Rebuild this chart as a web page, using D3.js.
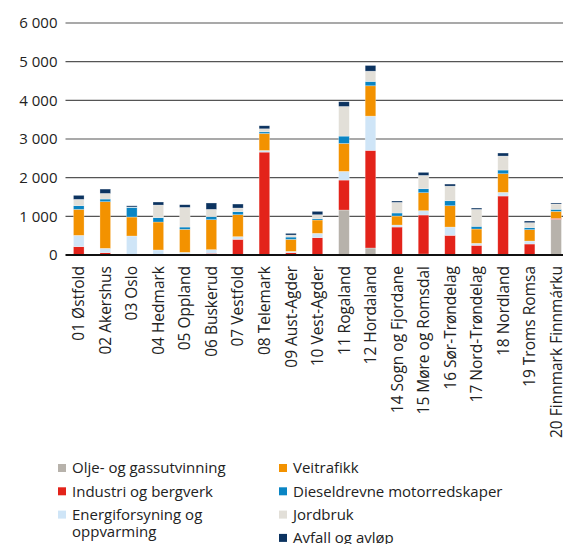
<!DOCTYPE html>
<html>
<head>
<meta charset="utf-8">
<script src="https://cdn.jsdelivr.net/npm/d3@7"></script>
<style>
  body { margin: 0; background: #fff; }
  svg { display: block; font-family: "Open Sans", "Noto Sans", sans-serif; }
</style>
</head>
<body>
<div id="chart"></div>
<script>
// counties on the x axis
const counties = [
  "01 Østfold", "02 Akershus", "03 Oslo", "04 Hedmark", "05 Oppland",
  "06 Buskerud", "07 Vestfold", "08 Telemark", "09 Aust-Agder", "10 Vest-Agder",
  "11 Rogaland", "12 Hordaland", "14 Sogn og Fjordane", "15 Møre og Romsdal",
  "16 Sør-Trøndelag", "17 Nord-Trøndelag", "18 Nordland", "19 Troms Romsa",
  "20 Finnmark Finnmárku"
];

// values per sector (stack order bottom -> top)
const olje      = [0, 0, 0, 0, 0, 0, 0, 0, 0, 0, 1163, 181, 0, 26, 0, 0, 0, 0, 922];
const industri  = [215, 60, 0, 10, 0, 43, 405, 2661, 60, 448, 775, 2524, 723, 1008, 508, 250, 1525, 284, 26];
const energi    = [293, 112, 491, 120, 69, 95, 69, 43, 34, 112, 224, 887, 52, 112, 215, 52, 95, 78, 0];
const veitrafikk = [672, 1206, 491, 723, 594, 775, 568, 439, 310, 345, 723, 784, 233, 465, 551, 370, 482, 293, 181];
const diesel    = [95, 69, 250, 112, 60, 78, 78, 43, 60, 34, 190, 112, 78, 103, 129, 69, 95, 52, 52];
const jordbruk  = [164, 146, 10, 327, 508, 190, 95, 78, 52, 103, 767, 267, 276, 345, 379, 439, 362, 129, 138];
const avfall    = [103, 112, 30, 78, 69, 164, 103, 78, 43, 86, 121, 146, 34, 78, 52, 34, 78, 43, 26];

const seriesNames = [
  "Olje- og gassutvinning", "Industri og bergverk", "Energiforsyning og oppvarming",
  "Veitrafikk", "Dieseldrevne motorredskaper", "Jordbruk", "Avfall og avløp"
];
const seriesValues = [olje, industri, energi, veitrafikk, diesel, jordbruk, avfall];
const colors = ["#b7b2ab", "#e3231a", "#cfe5f7", "#f39200", "#0a85c4", "#e2dfd8", "#0c3360"];

const yTicks = [0, 1000, 2000, 3000, 4000, 5000, 6000];

function drawChart(id) {
  const width = 563;
  const height = 544;
  const margin = { top: 23, left: 65.5, bottom: 255 };

  const svg = d3.select(`#${id}`)
    .append("svg")
    .attr("width", width)
    .attr("height", height);

  // build rows for d3.stack
  const keys = seriesNames;
  const rows = counties.map((c, i) => {
    const row = { county: c };
    keys.forEach((k, j) => { row[k] = seriesValues[j][i]; });
    return row;
  });
  const stacked = d3.stack().keys(keys)(rows);

  const x = d3.scaleBand()
    .domain(counties)
    .range([margin.left, margin.left + 19 * 26.52])
    .paddingInner(0.6)
    .paddingOuter(0.3);

  const y = d3.scaleLinear()
    .domain([0, 6000])
    .range([margin.bottom, margin.top]);

  // gridlines + tick labels
  const fmt = (d) => d3.format(",")(d).replace(",", " ");
  const grid = svg.append("g").attr("class", "grid");
  grid.selectAll("line")
    .data(yTicks.filter((d) => d > 0))
    .join("line")
    .attr("x1", margin.left)
    .attr("x2", width)
    .attr("y1", (d) => y(d))
    .attr("y2", (d) => y(d))
    .attr("stroke", "#555")
    .attr("stroke-width", 1.2);

  svg.append("g")
    .selectAll("text")
    .data(yTicks)
    .join("text")
    .attr("x", 57.5)
    .attr("y", (d) => y(d))
    .attr("dy", "0.36em")
    .attr("text-anchor", "end")
    .attr("font-size", 15)
    .attr("fill", "#222")
    .text(fmt);

  // stacked bars
  svg.append("g")
    .selectAll("g")
    .data(stacked)
    .join("g")
    .attr("fill", (d, i) => colors[i])
    .selectAll("rect")
    .data((d) => d.filter((s) => s[1] - s[0] > 0))
    .join("rect")
    .attr("x", (d) => x(d.data.county))
    .attr("width", x.bandwidth())
    .attr("y", (d) => y(d[1]))
    .attr("height", (d) => y(d[0]) - y(d[1]))
    .attr("stroke", "#fff")
    .attr("stroke-opacity", 0.45)
    .attr("stroke-width", 0.6);

  // baseline
  svg.append("line")
    .attr("x1", margin.left)
    .attr("x2", width)
    .attr("y1", y(0))
    .attr("y2", y(0))
    .attr("stroke", "#111")
    .attr("stroke-width", 2);

  // rotated category labels
  svg.append("g")
    .selectAll("text")
    .data(counties)
    .join("text")
    .attr("transform", (d) => `translate(${x(d) + x.bandwidth() / 2},${y(0) + 11}) rotate(-90)`)
    .attr("dy", "0.36em")
    .attr("text-anchor", "end")
    .attr("font-size", 15.5)
    .attr("fill", "#222")
    .text((d) => d);

  // legend, two columns
  const legendItems = [
    { col: 0, row: 0, lines: ["Olje- og gassutvinning"], i: 0 },
    { col: 0, row: 1, lines: ["Industri og bergverk"], i: 1 },
    { col: 0, row: 2, lines: ["Energiforsyning og", "oppvarming"], i: 2 },
    { col: 1, row: 0, lines: ["Veitrafikk"], i: 3 },
    { col: 1, row: 1, lines: ["Dieseldrevne motorredskaper"], i: 4 },
    { col: 1, row: 2, lines: ["Jordbruk"], i: 5 },
    { col: 1, row: 3, lines: ["Avfall og avløp"], i: 6 },
  ];
  const colX = [58, 279];
  const rowY = (r) => 468 + r * 23.3;

  const legend = svg.append("g")
    .selectAll("g")
    .data(legendItems)
    .join("g")
    .attr("transform", (d) => `translate(${colX[d.col]},${rowY(d.row)})`);

  legend.append("rect")
    .attr("x", 0)
    .attr("y", -4)
    .attr("width", 8)
    .attr("height", 8)
    .attr("fill", (d) => colors[d.i]);

  legend.append("text")
    .attr("x", 14)
    .attr("font-size", 15)
    .attr("fill", "#222")
    .selectAll("tspan")
    .data((d) => d.lines)
    .join("tspan")
    .attr("x", 14)
    .attr("y", (d, k) => 5.3 + k * 17.5)
    .text((d) => d);
}

document.addEventListener("DOMContentLoaded", function () {
  drawChart("chart");
});
</script>
</body>
</html>
